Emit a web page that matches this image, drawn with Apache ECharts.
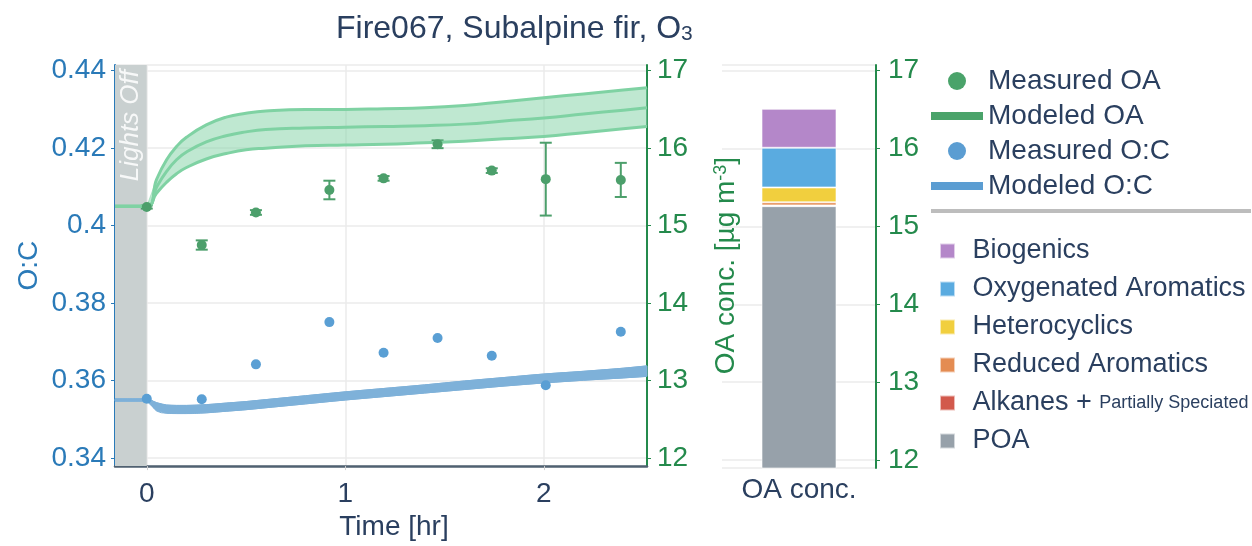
<!DOCTYPE html>
<html>
<head>
<meta charset="utf-8">
<script src="https://cdn.jsdelivr.net/npm/echarts@6/dist/echarts.min.js"></script>
<style>
html, body { margin: 0; padding: 0; background: #fff; }
#chart { width: 1252px; height: 546px; }
</style>
</head>
<body>
<div id="chart"></div>
<script>
// measured points (time in hr)
var measTime = [0, 0.277, 0.55, 0.92, 1.193, 1.465, 1.738, 2.01, 2.388];
var measOA = [15.24, 14.75, 15.17, 15.46, 15.61, 16.05, 15.71, 15.60, 15.59];
var measOAErr = [0.02, 0.06, 0.03, 0.12, 0.03, 0.05, 0.03, 0.47, 0.22];
var measOC = [0.3553, 0.3552, 0.3642, 0.3751, 0.3672, 0.3710, 0.3664, 0.3588, 0.3726];

// modeled curves
var modelTime = [-0.16, 0, 0.05, 0.1, 0.15, 0.2, 0.3, 0.4, 0.5, 0.6, 0.8, 1.0, 1.2, 1.4, 1.6, 1.8, 2.0, 2.2, 2.4, 2.52];
var oaUpper = [15.25, 15.25, 15.6, 15.85, 16.02, 16.14, 16.3, 16.4, 16.45, 16.48, 16.5, 16.5, 16.51, 16.52, 16.55, 16.6, 16.65, 16.7, 16.75, 16.78];
var oaMid = [15.25, 15.25, 15.5, 15.7, 15.85, 15.95, 16.08, 16.16, 16.21, 16.24, 16.26, 16.27, 16.28, 16.29, 16.31, 16.35, 16.39, 16.44, 16.49, 16.52];
var oaLower = [15.25, 15.25, 15.42, 15.56, 15.67, 15.75, 15.86, 15.93, 15.98, 16.0, 16.03, 16.04, 16.05, 16.07, 16.09, 16.12, 16.15, 16.2, 16.25, 16.28];
var ocUpper = [0.3553, 0.3553, 0.3543, 0.3537, 0.3536, 0.3536, 0.3538, 0.3542, 0.3546, 0.3551, 0.3561, 0.3571, 0.3580, 0.3589, 0.3599, 0.3608, 0.3617, 0.3624, 0.3632, 0.3638];
var ocLower = [0.3547, 0.3547, 0.3522, 0.3516, 0.3515, 0.3515, 0.3517, 0.3521, 0.3525, 0.3530, 0.3540, 0.3550, 0.3559, 0.3568, 0.3577, 0.3586, 0.3594, 0.3601, 0.3607, 0.3611];

// OA composition bar (bottom to top)
var barNames = ['POA', 'Alkanes + Partially Speciated', 'Reduced Aromatics', 'Heterocyclics', 'Oxygenated Aromatics', 'Biogenics'];
var barValues = [15.26, 0.01, 0.04, 0.19, 0.51, 0.50];
var barColors = ['#97a1aa', '#d2594c', '#e48c52', '#f1cf3e', '#5aabe0', '#b487c9'];
var barCategory = ['OA conc.'];

var lightsOff = [-0.16, 0];

var FONT = 'Liberation Sans, Arial, sans-serif';
var NAVY = '#2a3f5f';
var BLUE = '#2a7ab8';
var GREEN = '#248a4c';
var GRIDLINE = '#ebebeb';
var OA_LINE = '#7fd2a3';
var OC_BAND = '#7eb1d9';

var chart = echarts.init(document.getElementById('chart'));

function pairs(xs, ys) {
    return xs.map(function (x, i) { return [x, ys[i]]; });
}

// filled band between two curves, drawn once through the axis scales
function band(yIdx, upper, lower, fill, z) {
    return {
        type: 'custom', xAxisIndex: 0, yAxisIndex: yIdx, silent: true, z: z,
        data: modelTime.map(function (t, i) { return [t, lower[i], upper[i]]; }),
        encode: { x: 0, y: [1, 2] },
        renderItem: function (params, api) {
            if (params.dataIndex !== 0) return null;
            var pts = [];
            for (var i = 0; i < modelTime.length; i++) pts.push(api.coord([modelTime[i], upper[i]]));
            for (var j = modelTime.length - 1; j >= 0; j--) pts.push(api.coord([modelTime[j], lower[j]]));
            return { type: 'polygon', shape: { points: pts }, style: { fill: fill, stroke: fill, lineWidth: 1 } };
        }
    };
}

function curve(name, yIdx, ys, color, width) {
    return {
        name: name, type: 'line', xAxisIndex: 0, yAxisIndex: yIdx,
        data: pairs(modelTime, ys), showSymbol: false, smooth: true, silent: true,
        lineStyle: { color: color, width: width }, itemStyle: { color: color }
    };
}

var errData = measTime.map(function (t, i) {
    return [t, measOA[i] - measOAErr[i], measOA[i] + measOAErr[i]];
});

var lightsSeries = {
    name: 'lights', type: 'line', xAxisIndex: 0, yAxisIndex: 0, data: [],
    markArea: {
        silent: true,
        itemStyle: { color: '#c9d0d0' },
        data: [[{ xAxis: lightsOff[0] }, { xAxis: lightsOff[1] }]]
    }
};

var oaMidSeries = curve('Modeled OA', 1, oaMid, OA_LINE, 3);

var series = [
    lightsSeries,
    band(0, ocUpper, ocLower, OC_BAND, 2),
    curve('ocUp', 0, ocUpper, OC_BAND, 1),
    curve('ocLow', 0, ocLower, OC_BAND, 1),
    band(1, oaUpper, oaLower, 'rgba(127,210,163,0.5)', 2),
    curve('oaUp', 1, oaUpper, OA_LINE, 3),
    curve('oaLow', 1, oaLower, OA_LINE, 3),
    oaMidSeries,
    { name: 'Modeled O:C', type: 'line', xAxisIndex: 0, yAxisIndex: 0, data: [] },
    {
        name: 'oaErr', type: 'custom', xAxisIndex: 0, yAxisIndex: 1,
        data: errData, encode: { x: 0, y: [1, 2] },
        renderItem: function (params, api) {
            var lo = api.coord([api.value(0), api.value(1)]);
            var hi = api.coord([api.value(0), api.value(2)]);
            var w = 6;
            var st = { stroke: '#4c9f6b', lineWidth: 2 };
            return {
                type: 'group',
                children: [
                    { type: 'line', shape: { x1: lo[0], y1: lo[1], x2: hi[0], y2: hi[1] }, style: st },
                    { type: 'line', shape: { x1: lo[0] - w, y1: lo[1], x2: lo[0] + w, y2: lo[1] }, style: st },
                    { type: 'line', shape: { x1: hi[0] - w, y1: hi[1], x2: hi[0] + w, y2: hi[1] }, style: st }
                ]
            };
        },
        z: 3
    },
    {
        name: 'Measured OA', type: 'scatter', xAxisIndex: 0, yAxisIndex: 1,
        data: pairs(measTime, measOA), symbolSize: 10,
        itemStyle: { color: '#4c9f6b', opacity: 1 }, z: 4
    },
    {
        name: 'Measured O:C', type: 'scatter', xAxisIndex: 0, yAxisIndex: 0,
        data: pairs(measTime, measOC), symbolSize: 10,
        itemStyle: { color: '#5a9fd4', opacity: 1 }, z: 4
    }
];

barNames.forEach(function (n, i) {
    series.push({
        name: n, type: 'bar', xAxisIndex: 1, yAxisIndex: 2, stack: 'comp',
        data: [barValues[i]], barWidth: 75,
        itemStyle: { color: barColors[i], borderColor: 'rgba(255,255,255,0.6)', borderWidth: 1 }
    });
});

var tickLabel = { fontFamily: FONT, fontSize: 28 };

var option = {
    animation: false,
    backgroundColor: '#ffffff',
    title: {
        text: 'Fire067, Subalpine fir, O{sub|3}',
        left: 331, top: 8,
        textStyle: {
            fontFamily: FONT, fontSize: 32, fontWeight: 'normal', color: NAVY,
            rich: { sub: { fontFamily: FONT, fontSize: 21, color: NAVY, verticalAlign: 'bottom' } }
        }
    },
    grid: [
        { left: 115, right: 605, top: 65, bottom: 78 },
        { left: 722, right: 376, top: 65, bottom: 78 }
    ],
    xAxis: [
        {
            type: 'value', gridIndex: 0, min: -0.16, max: 2.52, minInterval: 1, maxInterval: 1,
            name: 'Time [hr]', nameLocation: 'middle', nameGap: 46,
            nameTextStyle: { fontFamily: FONT, fontSize: 28, color: NAVY, padding: [0, 0, 0, 26] },
            axisLine: { onZero: false, lineStyle: { color: '#506171', width: 2.5 } },
            axisTick: { show: true, length: 4, lineStyle: { color: '#d0d0d0' } },
            axisLabel: Object.assign({ color: NAVY, margin: 14, showMinLabel: false, showMaxLabel: false }, tickLabel),
            splitLine: { show: true, lineStyle: { color: GRIDLINE, width: 1.5 } }
        },
        {
            type: 'category', gridIndex: 1, data: barCategory,
            axisLine: { show: false }, axisTick: { show: false },
            axisLabel: Object.assign({ color: NAVY, margin: 8 }, tickLabel),
            splitLine: { show: false }
        }
    ],
    yAxis: [
        {
            type: 'value', gridIndex: 0, position: 'left', min: 0.33794, max: 0.44146,
            minInterval: 0.02, maxInterval: 0.02,
            name: 'O:C', nameLocation: 'middle', nameGap: 72,
            nameTextStyle: { fontFamily: FONT, fontSize: 28, color: BLUE },
            axisLine: { show: true, onZero: false, lineStyle: { color: BLUE, width: 2 } },
            axisTick: { show: true, length: 4, lineStyle: { color: BLUE } },
            axisLabel: Object.assign({ color: BLUE, margin: 9, showMinLabel: false, showMaxLabel: false }, tickLabel),
            splitLine: { show: true, lineStyle: { color: GRIDLINE, width: 1.5 } }
        },
        {
            type: 'value', gridIndex: 0, position: 'right', min: 11.897, max: 17.073,
            minInterval: 1, maxInterval: 1,
            name: 'OA conc. [µg m{sup|-3}]', nameLocation: 'middle', nameGap: 65,
            nameTextStyle: {
                fontFamily: FONT, fontSize: 28, color: GREEN,
                rich: { sup: { fontFamily: FONT, fontSize: 18, color: GREEN, verticalAlign: 'top' } }
            },
            axisLine: { show: true, onZero: false, lineStyle: { color: GREEN, width: 2 } },
            axisTick: { show: true, length: 4, lineStyle: { color: GREEN } },
            axisLabel: Object.assign({ color: GREEN, margin: 10, showMinLabel: false, showMaxLabel: false }, tickLabel),
            splitLine: { show: false }
        },
        {
            type: 'value', gridIndex: 1, position: 'right', min: 11.897, max: 17.073,
            minInterval: 1, maxInterval: 1,
            axisLine: { show: true, onZero: false, lineStyle: { color: GREEN, width: 2 } },
            axisTick: { show: true, length: 4, lineStyle: { color: GREEN } },
            axisLabel: Object.assign({ color: GREEN, margin: 12, showMinLabel: false, showMaxLabel: false }, tickLabel),
            splitLine: { show: true, lineStyle: { color: GRIDLINE, width: 1.5 } }
        }
    ],
    legend: [
        {
            orient: 'vertical', left: 926, top: 61,
            itemWidth: 52, itemHeight: 18, itemGap: 5,
            textStyle: { fontFamily: FONT, fontSize: 28, color: NAVY, lineHeight: 30 },
            selectedMode: false,
            data: [
                { name: 'Measured OA', icon: 'circle', itemStyle: { color: '#4aa36a' } },
                { name: 'Modeled OA', icon: 'path://M0 0H52V8H0Z', itemStyle: { color: '#4aa36a' } },
                { name: 'Measured O:C', icon: 'circle', itemStyle: { color: '#5b9dd2' } },
                { name: 'Modeled O:C', icon: 'path://M0 0H52V8H0Z', itemStyle: { color: '#5b9dd2' } }
            ]
        },
        {
            orient: 'vertical', left: 934, top: 232,
            itemWidth: 40, itemHeight: 15, itemGap: 10,
            icon: 'path://M0 0H10V10H0Z',
            selectedMode: false,
            textStyle: {
                fontFamily: FONT, fontSize: 27, color: NAVY, lineHeight: 28,
                rich: { s: { fontFamily: FONT, fontSize: 18, color: NAVY } }
            },
            formatter: function (name) {
                return name === 'Alkanes + Partially Speciated' ? 'Alkanes + {s|Partially Speciated}' : name;
            },
            data: barNames.slice().reverse()
        }
    ],
    series: series
};

chart.setOption(option);

// decorations: legend separator and the "Lights Off" caption
var bandX = chart.convertToPixel({ xAxisIndex: 0 }, (lightsOff[0] + lightsOff[1]) / 2);
chart.setOption({
    graphic: [
        {
            type: 'line', shape: { x1: 931, y1: 211, x2: 1251, y2: 211 },
            style: { stroke: '#bdbdbd', lineWidth: 4 }, silent: true
        },
        {
            type: 'text', x: bandX, y: 70, rotation: Math.PI / 2, silent: true, z: 10,
            style: {
                text: 'Lights Off', fill: 'rgba(255,255,255,0.85)',
                font: 'italic 26px Liberation Sans, Arial, sans-serif',
                align: 'right', verticalAlign: 'middle'
            }
        }
    ]
});
</script>
</body>
</html>
